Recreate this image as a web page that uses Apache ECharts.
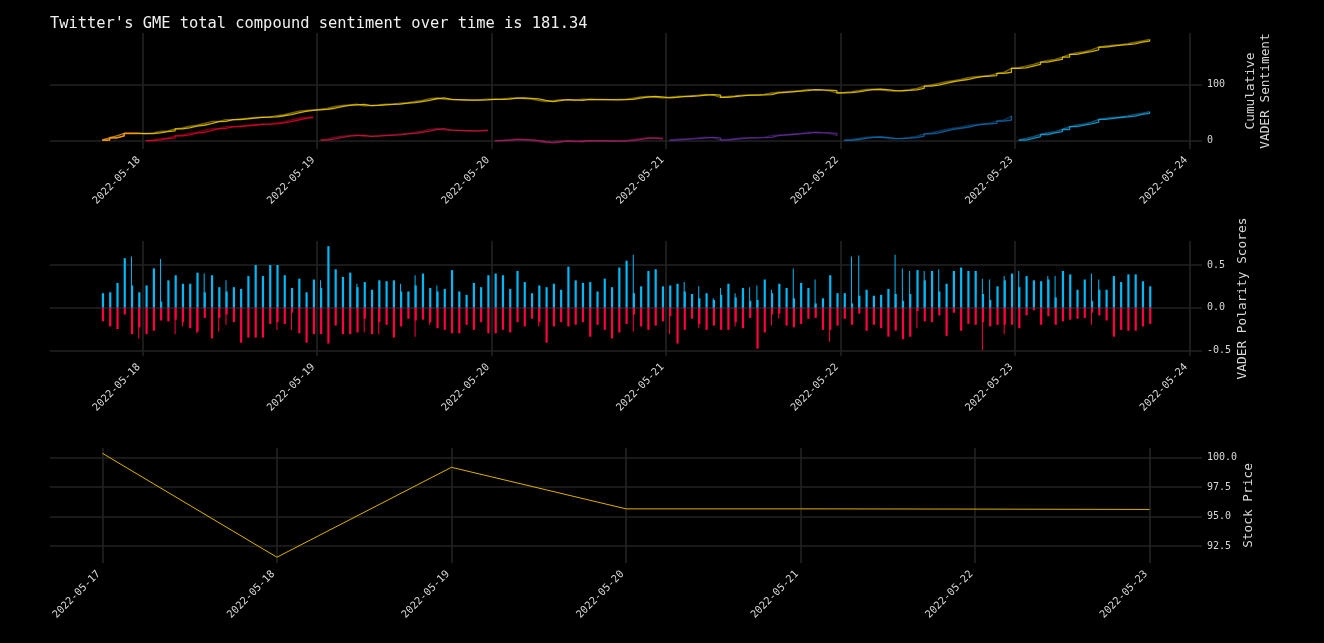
<!DOCTYPE html>
<html>
<head>
<meta charset="utf-8">
<title>GME sentiment</title>
<script src="https://cdn.jsdelivr.net/npm/echarts@6/dist/echarts.min.js"></script>
<style>
html, body { margin: 0; padding: 0; background: #000; }
#chart { width: 1324px; height: 643px; }
</style>
</head>
<body>
<div id="chart"></div>
<script>
// hourly buckets, first one at 2022-05-17 18:30
var firstHour = [2022, 5, 17, 18, 30];
var dayLengths = [6, 24, 24, 24, 24, 24, 19];
var dayColors = ['#ff8c1a', '#f0002a', '#d0183f', '#b01e66', '#6430a0', '#1470b8', '#18b0f0'];
var totalColor = '#ffd800';

// cumulative compound score inside each day (resets every day)
var dailyCum = [
    1, 5, 8.5, 13, 13, 12.6,
    0, 1.3, 3.6, 4.8, 8.4, 10.2, 13.3, 15, 18, 21.5, 21.8, 25, 25, 26.4, 27.6, 29, 29.5, 30, 32, 34, 37, 40, 41.5, 42.5,
    1, 3, 6, 8, 9, 10, 7.5, 8, 9, 10, 10.5, 12, 13, 15, 17, 20, 21.5, 19, 18.5, 18, 17.5, 17.5, 18, 19,
    0, 0.5, 2, 2.4, 1.5, 0.6, -2, -4, -2.5, -0.6, -1, -2, 0, -0.5, -0.5, -0.5, -1, -0.5, 0, 2, 4, 5, 4.5, 2.5,
    1, 2.4, 3, 3.6, 5, 6, 5, 1, 2.5, 3.6, 5, 5, 5.4, 6, 9, 10, 11, 12, 13, 15, 14.4, 14, 13, 9,
    0.5, 2, 4, 6, 6.5, 6, 4, 3.6, 4.5, 5.5, 8, 12, 14, 17, 20, 22, 24, 27, 29, 30, 31, 35, 37, 44,
    1, 4, 7, 11, 14, 16, 20, 25, 28, 30, 33, 38, 40, 41.5, 42.5, 44, 47, 49, 51.7
];

// VADER polarity per hour (second tweet in the same hour in the *Extra arrays)
var posScores = [
    0.17, 0.18, 0.29, 0.58, 0.26, 0.18, 0.26, 0.46, 0.07, 0.32, 0.38, 0.28, 0.28, 0.41, 0.18, 0.38, 0.24, 0.19, 0.24, 0.22,
    0.37, 0.50, 0.37, 0.50, 0.50, 0.38, 0.23, 0.34, 0.18, 0.33, 0.23, 0.72, 0.45, 0.36, 0.41, 0.24, 0.30, 0.21, 0.32, 0.31,
    0.32, 0.19, 0.19, 0.26, 0.40, 0.23, 0.19, 0.22, 0.44, 0.19, 0.15, 0.29, 0.24, 0.38, 0.40, 0.38, 0.22, 0.43, 0.30, 0.17,
    0.26, 0.24, 0.28, 0.21, 0.48, 0.32, 0.29, 0.30, 0.19, 0.34, 0.24, 0.47, 0.55, 0.17, 0.25, 0.43, 0.45, 0.25, 0.26, 0.28,
    0.19, 0.16, 0.11, 0.17, 0.09, 0.15, 0.28, 0.12, 0.23, 0.08, 0.09, 0.33, 0.17, 0.28, 0.23, 0.11, 0.29, 0.23, 0.05, 0.11,
    0.38, 0.17, 0.17, 0.05, 0.14, 0.21, 0.14, 0.15, 0.22, 0.16, 0.08, 0.16, 0.44, 0.32, 0.43, 0.19, 0.28, 0.43, 0.47, 0.43,
    0.43, 0.16, 0.09, 0.25, 0.32, 0.40, 0.24, 0.37, 0.32, 0.31, 0.33, 0.12, 0.43, 0.39, 0.21, 0.33, 0.08, 0.21, 0.21, 0.37,
    0.30, 0.39, 0.39, 0.31, 0.25
];
var posExtra = [
    null, null, null, null, 0.60, null, null, null, 0.57, null, null, null, null, null, 0.40, null, null, 0.32, null, null,
    null, null, null, null, null, null, null, null, null, null, 0.32, null, null, null, null, 0.28, null, null, null, null,
    null, 0.28, null, 0.38, null, null, 0.26, null, null, null, null, null, null, null, null, null, null, null, null, null,
    null, null, null, null, null, null, null, null, null, null, null, null, null, 0.62, null, null, null, null, null, null,
    0.30, null, 0.25, null, 0.11, 0.23, null, 0.17, 0.15, 0.24, 0.26, null, 0.21, null, null, 0.46, null, null, 0.33, null,
    null, null, null, 0.60, 0.61, null, null, null, null, 0.62, 0.46, 0.43, null, 0.43, null, 0.45, null, null, null, null,
    null, 0.34, 0.33, null, 0.37, null, 0.43, null, null, null, 0.37, 0.37, null, null, null, null, 0.40, 0.33, null, null,
    null, null, null, null, null
];
var negScores = [
    -0.16, -0.22, -0.25, -0.08, -0.31, -0.23, -0.31, -0.27, -0.15, -0.16, -0.14, -0.17, -0.24, -0.28, -0.12, -0.36, -0.12, -0.08, -0.17, -0.41,
    -0.35, -0.35, -0.35, -0.19, -0.17, -0.19, -0.06, -0.30, -0.41, -0.31, -0.31, -0.42, -0.21, -0.31, -0.31, -0.29, -0.13, -0.31, -0.17, -0.20,
    -0.35, -0.22, -0.13, -0.15, -0.14, -0.17, -0.24, -0.26, -0.30, -0.30, -0.20, -0.26, -0.17, -0.30, -0.30, -0.26, -0.29, -0.17, -0.22, -0.13,
    -0.17, -0.41, -0.22, -0.17, -0.22, -0.20, -0.17, -0.34, -0.20, -0.26, -0.36, -0.29, -0.19, -0.08, -0.22, -0.26, -0.21, -0.16, -0.10, -0.42,
    -0.26, -0.13, -0.19, -0.26, -0.21, -0.26, -0.26, -0.17, -0.24, -0.12, -0.48, -0.29, -0.08, -0.07, -0.21, -0.23, -0.19, -0.13, -0.12, -0.26,
    -0.26, -0.21, -0.13, -0.20, -0.07, -0.27, -0.20, -0.24, -0.34, -0.27, -0.37, -0.34, -0.04, -0.16, -0.17, -0.09, -0.33, -0.06, -0.27, -0.19,
    -0.20, -0.17, -0.22, -0.20, -0.20, -0.20, -0.24, -0.09, -0.03, -0.20, -0.10, -0.20, -0.16, -0.14, -0.13, -0.12, -0.06, -0.09, -0.15, -0.34,
    -0.26, -0.27, -0.27, -0.22, -0.19
];
var negExtra = [
    null, null, null, null, null, -0.36, null, null, null, null, -0.31, -0.22, null, -0.30, null, null, -0.28, -0.20, null, null,
    null, null, null, null, -0.26, null, -0.26, null, null, null, null, null, null, null, null, null, -0.29, null, -0.31, null,
    null, null, null, -0.34, null, -0.20, null, null, null, null, null, null, null, null, null, null, null, null, null, null,
    -0.22, null, null, null, null, null, null, null, null, null, null, null, null, -0.28, null, null, null, null, -0.31, null,
    null, null, -0.24, null, null, null, null, -0.22, null, null, null, null, -0.21, -0.13, null, null, null, null, null, null,
    -0.40, null, null, null, null, null, null, null, null, null, null, null, -0.24, null, null, null, null, null, null, null,
    null, -0.50, null, null, -0.31, null, null, null, null, null, null, null, null, null, null, null, -0.20, null, null, null,
    null, null, null, null, null
];

var priceDays = ['2022-05-17', '2022-05-18', '2022-05-19', '2022-05-20', '2022-05-21', '2022-05-22', '2022-05-23'];
var stockPrice = [100.37, 91.54, 99.18, 95.65, 95.65, 95.63, 95.60];

var sentimentDayTicks = ['2022-05-18', '2022-05-19', '2022-05-20', '2022-05-21', '2022-05-22', '2022-05-23', '2022-05-24'];
var sentimentTicks = [0, 100];
var polarityTicks = [-0.5, 0, 0.5];
var priceTicks = [92.5, 95, 97.5, 100];

var HOUR = 3600 * 1000;
function dayTime(s) {
    var p = s.split('-');
    return new Date(+p[0], p[1] - 1, +p[2]).getTime();
}
function fmtDay(v) {
    var d = new Date(v);
    var m = d.getMonth() + 1, dd = d.getDate();
    return d.getFullYear() + '-' + (m < 10 ? '0' + m : m) + '-' + (dd < 10 ? '0' + dd : dd);
}

var t0 = new Date(firstHour[0], firstHour[1] - 1, firstHour[2], firstHour[3], firstHour[4]).getTime();
var hourTimes = dailyCum.map(function (v, k) { return t0 + k * HOUR; });

var mono = 'DejaVu Sans Mono';
var textColor = '#d8d8d8';
var gridColor = '#222';

var series = [];
function addCumLine(points, color) {
    // stair line on top of a faint straight line
    series.push({
        type: 'line', xAxisIndex: 0, yAxisIndex: 0, showSymbol: false,
        lineStyle: { color: color, width: 1.5, opacity: 0.45 }, data: points
    });
    series.push({
        type: 'line', xAxisIndex: 0, yAxisIndex: 0, step: 'end', showSymbol: false,
        lineStyle: { color: color, width: 1.3, opacity: 0.8 }, data: points
    });
}

// running total across all days
var totalPts = [];
var dayPts = [];
var run = 0, k = 0;
dayLengths.forEach(function (len, d) {
    var pts = [];
    for (var i = 0; i < len; i++, k++) {
        pts.push([hourTimes[k], dailyCum[k]]);
        totalPts.push([hourTimes[k], run + dailyCum[k]]);
    }
    run += dailyCum[k - 1];
    dayPts.push(pts);
});
addCumLine(totalPts, totalColor);
dayPts.forEach(function (pts, d) { addCumLine(pts, dayColors[d]); });

function barData(arr) {
    var out = [];
    arr.forEach(function (v, i) { if (v != null) out.push([hourTimes[i], v]); });
    return out;
}
var posColor = '#00b8f5', negColor = '#ff0040';
var barBase = { type: 'bar', xAxisIndex: 1, yAxisIndex: 1, barGap: '-100%' };
series.push(Object.assign({}, barBase, { barWidth: 2.2, itemStyle: { color: posColor }, data: barData(posScores) }));
series.push(Object.assign({}, barBase, { barWidth: 2.2, itemStyle: { color: negColor }, data: barData(negScores) }));
series.push(Object.assign({}, barBase, { barWidth: 1, itemStyle: { color: posColor }, data: barData(posExtra) }));
series.push(Object.assign({}, barBase, { barWidth: 1, itemStyle: { color: negColor }, data: barData(negExtra) }));

series.push({
    type: 'line', xAxisIndex: 2, yAxisIndex: 2, showSymbol: false,
    lineStyle: { color: '#dcb000', width: 1 },
    data: priceDays.map(function (s, i) { return [dayTime(s), stockPrice[i]]; })
});

function timeAxis(idx, minT, maxT, ticks) {
    var vals = ticks.map(dayTime);
    return {
        type: 'value', gridIndex: idx, min: minT, max: maxT, scale: true,
        axisLine: { show: false },
        axisTick: { show: false, customValues: vals },
        axisLabel: {
            customValues: vals, rotate: 45, margin: 13, verticalAlign: 'bottom', color: textColor,
            fontFamily: mono, fontSize: 10.4, formatter: function (v) { return fmtDay(v); }
        },
        splitLine: { show: true, lineStyle: { color: gridColor, width: 1.6 } }
    };
}
function valueAxis(idx, minV, maxV, ticks, name, gap, fmt) {
    return {
        type: 'value', gridIndex: idx, position: 'right', min: minV, max: maxV,
        name: name, nameLocation: 'middle', nameRotate: 90, nameGap: gap, nameMoveOverlap: false,
        nameTextStyle: { color: textColor, fontFamily: mono, fontSize: 12.8, lineHeight: 15 },
        axisLine: { show: false },
        axisTick: { show: false, customValues: ticks },
        axisLabel: { customValues: ticks, margin: 5, color: textColor, fontFamily: mono, fontSize: 10, formatter: fmt },
        splitLine: { show: true, lineStyle: { color: gridColor, width: 1.6 } }
    };
}

var sentMin = t0 - 7.2 * HOUR, sentMax = hourTimes[hourTimes.length - 1] + 7.2 * HOUR;
var priceMin = dayTime(priceDays[0]) - 7.2 * HOUR, priceMax = dayTime(priceDays[priceDays.length - 1]) + 7.2 * HOUR;

var chart = echarts.init(document.getElementById('chart'));
chart.setOption({
    backgroundColor: '#000',
    animation: false,
    title: {
        text: "Twitter's GME total compound sentiment over time is 181.34",
        left: 45, top: 11,
        textStyle: { color: '#f0f0f0', fontFamily: mono, fontSize: 15.4, fontWeight: 'normal' }
    },
    grid: [
        { left: 50, right: 122, top: 33, height: 116 },
        { left: 50, right: 122, top: 241, height: 115 },
        { left: 50, right: 122, top: 448, height: 115 }
    ],
    xAxis: [
        timeAxis(0, sentMin, sentMax, sentimentDayTicks),
        timeAxis(1, sentMin, sentMax, sentimentDayTicks),
        timeAxis(2, priceMin, priceMax, priceDays)
    ],
    yAxis: [
        valueAxis(0, -15, 193, sentimentTicks, 'Cumulative\nVADER Sentiment', 41, function (v) { return String(v); }),
        valueAxis(1, -0.566, 0.781, polarityTicks, 'VADER Polarity Scores', 33, function (v) { return v.toFixed(1); }),
        valueAxis(2, 91.05, 100.82, priceTicks, 'Stock Price', 39, function (v) { return v.toFixed(1); })
    ],
    series: series
});
</script>
</body>
</html>
